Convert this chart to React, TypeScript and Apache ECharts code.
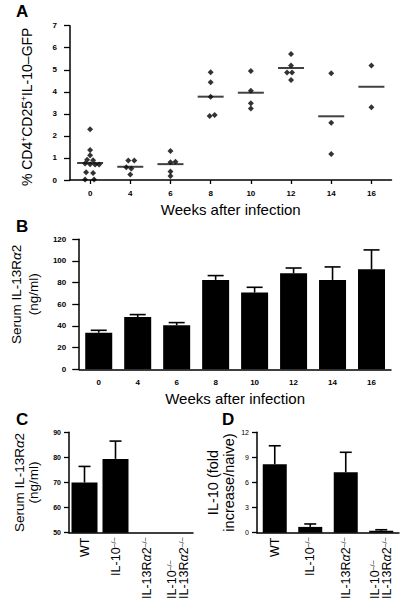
import React, { useEffect, useRef } from "react";
import * as echarts from "echarts";

const FONT = "'Liberation Sans', Arial, Helvetica, sans-serif";

// ---- Panel A: % CD4+CD25+IL-10-GFP, individual animals per week ----
const weeks = ["0", "4", "6", "8", "10", "12", "14", "16"];
const aWeek0 = [2.3, 1.36, 1.12, 0.92, 0.9, 0.75, 0.72, 0.7, 0.7, 0.35, 0.32, 0.02, 0.02];
const aWeek4 = [0.89, 0.89, 0.58, 0.52, 0.25];
const aWeek6 = [1.31, 0.83, 0.8, 0.38, 0.18];
const aWeek8 = [4.89, 4.43, 3.78, 2.9, 2.95];
const aWeek10 = [4.95, 4.05, 3.48, 3.24];
const aWeek12 = [5.72, 5.19, 4.88, 4.88, 4.54];
const aWeek14 = [4.84, 2.6, 1.18];
const aWeek16 = [5.19, 3.3];
const aMedians = [0.77, 0.6, 0.72, 3.78, 3.96, 5.08, 2.89, 4.23];
const aTicks = [0, 7, 1]; // min, max, interval

// ---- Panel B: serum IL-13Ra2 (ng/ml) by week ----
const bValues = [33.8, 48.3, 40.6, 82.5, 70.8, 88.6, 82.5, 92.3];
const bSem = [2.2, 2.2, 2.5, 4.0, 4.9, 4.9, 12.0, 17.9];
const bTicks = [0, 120, 20];

// ---- Panels C & D: genotypes ----
const genotypes = ["WT", "IL-10-/-", "IL-13Ra2-/-", "IL-10-/- IL-13Ra2-/-"];
const cValues: (number | null)[] = [70.0, 79.4, null, null];
const cSem: (number | null)[] = [6.4, 7.1, null, null];
const cTicks = [50, 90, 10];
const dValues = [8.18, 0.69, 7.22, 0.23];
const dSem = [2.21, 0.35, 2.39, 0.12];
const dTicks = [0, 12, 3];

// horizontal jitter of dots (px) — presentation only
const aJitter = [
  [0, 0, 0, -3, 3, -5, 0, 5, 9, -4, 3, -5, 4],
  [-2, 4, -4, 1, 0],
  [0, 5, 0, 0, 0],
  [0, 0, 0, -1, 4],
  [0, 0, 0, 0],
  [0, 0, -4, 1, 0],
  [0, 0, 0],
  [0, 0],
];

const genotypeLabels = [
  "{n|WT}",
  "{n|IL-10}{s|–/–}",
  "{n|IL-13R}{a|α}{n|2}{s|–/–}",
  "{n|IL-10}{s|–/–}{p| }\n{n|IL-13R}{a|α}{n|2}{s|–/–}",
];

const black = "#000";
const axisLine = { show: true, onZero: false, lineStyle: { color: black, width: 1.5 } };

function errorSeries(xi: number, vals: (number | null)[], sems: (number | null)[], cap: number) {
  const data: number[][] = [];
  vals.forEach((v, i) => {
    if (v != null && sems[i] != null) data.push([i, v, v + (sems[i] as number)]);
  });
  return {
    type: "custom",
    xAxisIndex: xi,
    yAxisIndex: xi,
    data,
    z: 5,
    renderItem: (_p: any, api: any) => {
      const x = api.value(0);
      const lo = api.coord([x, api.value(1)]);
      const hi = api.coord([x, api.value(2)]);
      const st = { stroke: black, lineWidth: 1.6 };
      return {
        type: "group",
        children: [
          { type: "line", shape: { x1: lo[0], y1: lo[1], x2: hi[0], y2: hi[1] }, style: st },
          { type: "line", shape: { x1: hi[0] - cap / 2, y1: hi[1], x2: hi[0] + cap / 2, y2: hi[1] }, style: st },
        ],
      };
    },
  };
}

function yAxis(grid: number, ticks: number[], name: string, nameGap: number, extra: any = {}) {
  const fs = extra.nameSize ?? 14;
  const lh = extra.nameLineHeight ?? 16;
  return {
    type: "value",
    gridIndex: grid,
    min: ticks[0],
    max: ticks[1],
    interval: ticks[2],
    axisLine,
    axisTick: { show: true, length: extra.tickLen ?? 6, lineStyle: { color: black, width: 1.3 } },
    axisLabel: {
      color: black,
      fontFamily: FONT,
      fontSize: extra.labelSize ?? 8,
      fontWeight: extra.labelWeight ?? "bold",
      margin: extra.labelMargin ?? 13,
    },
    splitLine: { show: false },
    name,
    nameLocation: "middle",
    nameRotate: 90,
    nameGap,
    nameTextStyle: {
      color: black,
      fontFamily: FONT,
      fontSize: fs,
      lineHeight: lh,
      padding: extra.namePadding ?? 0,
      rich: {
        s: { fontSize: 8.5, fontFamily: FONT, color: black, verticalAlign: "top", lineHeight: lh },
        a: { fontSize: fs, fontFamily: FONT, color: black, fontStyle: "italic", lineHeight: lh },
      },
    },
  };
}

function genotypeXAxis(grid: number) {
  return {
    type: "category",
    gridIndex: grid,
    data: genotypes,
    axisLine,
    axisTick: { show: false },
    axisLabel: {
      rotate: 90,
      margin: 5,
      interval: 0,
      color: black,
      formatter: (_v: string, i: number) => genotypeLabels[i],
      rich: {
        n: { fontSize: 12.5, fontFamily: FONT, color: black, lineHeight: 12 },
        a: { fontSize: 12.5, fontFamily: FONT, color: black, fontStyle: "italic", lineHeight: 12 },
        s: { fontSize: 7, fontFamily: FONT, color: black, lineHeight: 12, verticalAlign: "top" },
        p: { width: 23, fontSize: 12.5, lineHeight: 12 },
      },
    },
    splitLine: { show: false },
  };
}

const weekGroups = [aWeek0, aWeek4, aWeek6, aWeek8, aWeek10, aWeek12, aWeek14, aWeek16];

export default function App() {
  const ref = useRef<HTMLDivElement>(null);
  useEffect(() => {
    if (!ref.current) return;
    const chart = echarts.init(ref.current, null, { renderer: "svg" });
    const dots: any[] = [];
    weekGroups.forEach((vals, i) => {
      vals.forEach((v, j) => {
        dots.push({ value: [weeks[i], v], symbolOffset: [aJitter[i][j] ?? 0, 0] });
      });
    });
    const letter = (t: string, left: number, top: number) => ({
      text: t,
      left,
      top,
      padding: 0,
      textStyle: { fontFamily: FONT, fontSize: 17, fontWeight: "bold", color: black },
    });
    const weekAxis = (grid: number, ticks: boolean) => ({
      type: "category",
      gridIndex: grid,
      data: weeks,
      axisLine,
      axisTick: { show: ticks, alignWithLabel: true, length: 4, lineStyle: { color: black, width: 1.3 } },
      axisLabel: { color: black, fontFamily: FONT, fontSize: 8, fontWeight: "bold", margin: 9 },
      splitLine: { show: false },
      name: "Weeks after infection",
      nameLocation: "middle",
      nameGap: 22,
      nameTextStyle: { color: black, fontFamily: FONT, fontSize: 15 },
    });
    chart.setOption({
      animation: false,
      backgroundColor: "#fff",
      textStyle: { fontFamily: FONT },
      title: [letter("A", 16, 3), letter("B", 16, 218), letter("C", 16, 411), letter("D", 222, 411)],
      grid: [
        { left: 70, top: 25.7, width: 321.5, height: 154.3 },
        { left: 70, top: 239.3, width: 321, height: 130 },
        { left: 69, top: 432.3, width: 124, height: 104.4 },
        { left: 257, top: 432.3, width: 142, height: 104.4 },
      ],
      xAxis: [weekAxis(0, true), weekAxis(1, false), genotypeXAxis(2), genotypeXAxis(3)],
      yAxis: [
        yAxis(0, aTicks, "% CD4{s|+}CD25{s|+}IL-10–GFP", 35, { nameSize: 14, namePadding: [0, 8, 0, 0] }),
        yAxis(1, bTicks, "Serum IL-13R{a|α}2\n(ng/ml)", 27, {
          tickLen: 7, nameSize: 13.5, nameLineHeight: 17, namePadding: [0, 0, 0, 20],
        }),
        yAxis(2, cTicks, "Serum IL-13R{a|α}2\n(ng/ml)", 29, {
          tickLen: 5, labelSize: 7, labelMargin: 8, nameSize: 13.5, nameLineHeight: 14,
        }),
        yAxis(3, dTicks, "IL-10 (fold\nincrease/naive)", 20, {
          tickLen: 5, labelSize: 7, labelWeight: "normal", labelMargin: 8, nameSize: 14.5,
        }),
      ],
      series: [
        {
          type: "scatter",
          xAxisIndex: 0,
          yAxisIndex: 0,
          symbol: "diamond",
          symbolSize: 6,
          itemStyle: { color: black },
          data: dots,
        },
        {
          type: "scatter",
          xAxisIndex: 0,
          yAxisIndex: 0,
          symbol: "rect",
          symbolSize: [26, 2],
          itemStyle: { color: "#111" },
          data: aMedians.map((m, i) => [weeks[i], m]),
        },
        {
          type: "bar",
          xAxisIndex: 1,
          yAxisIndex: 1,
          barWidth: 27,
          itemStyle: { color: black },
          data: bValues,
        },
        errorSeries(1, bValues, bSem, 16),
        {
          type: "bar",
          xAxisIndex: 2,
          yAxisIndex: 2,
          barWidth: 26,
          clip: true,
          itemStyle: { color: black },
          data: cValues.map((v) => (v == null ? "-" : v)),
        },
        errorSeries(2, cValues, cSem, 12),
        {
          type: "bar",
          xAxisIndex: 3,
          yAxisIndex: 3,
          barWidth: 24,
          itemStyle: { color: black },
          data: dValues,
        },
        errorSeries(3, dValues, dSem, 12),
      ],
    });
    return () => chart.dispose();
  }, []);
  return (
    <div
      ref={ref}
      style={{ position: "fixed", left: 0, top: 0, width: 404, height: 602, background: "#fff" }}
    />
  );
}
